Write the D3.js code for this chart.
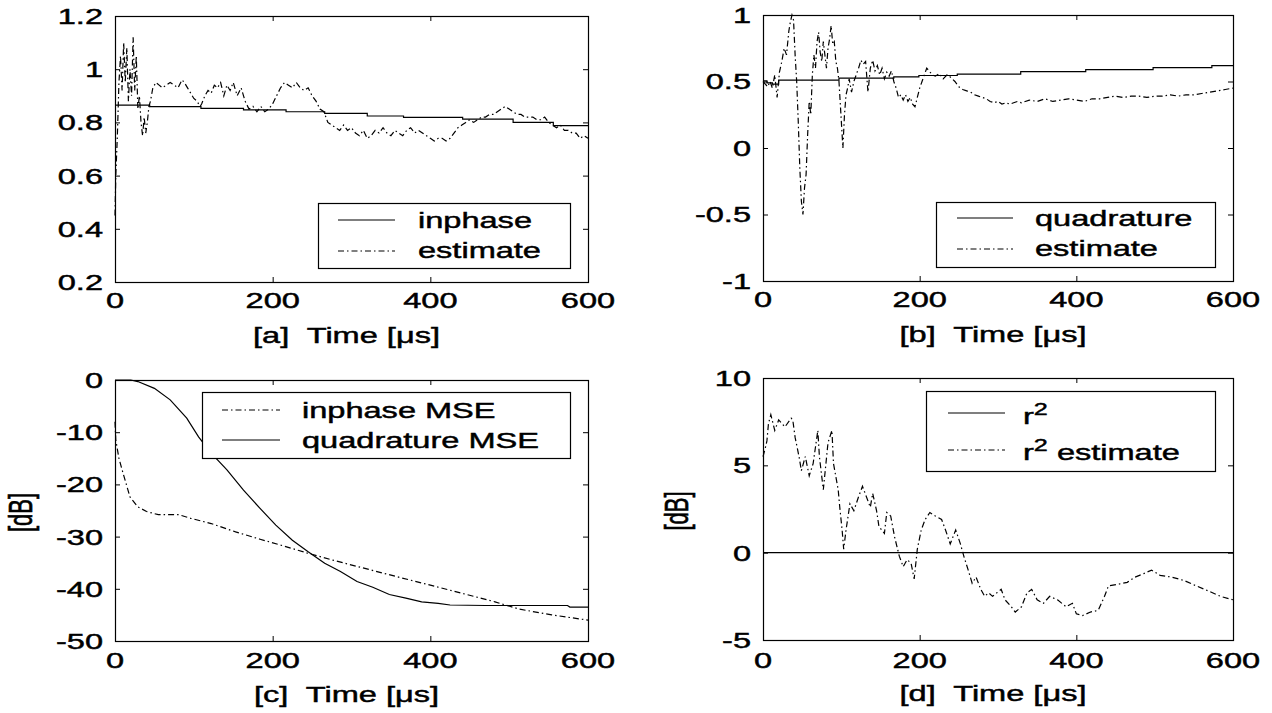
<!DOCTYPE html>
<html><head><meta charset="utf-8">
<script src="https://cdn.jsdelivr.net/npm/d3@7"></script>
<style>body{margin:0;background:#fff}svg{display:block}</style>
</head><body>
<script>
// ---------------- DATA ----------------
const timeTicks = [0, 200, 400, 600];
const timeTickLabels = ["0", "200", "400", "600"];

const yTicksA = [0.2, 0.4, 0.6, 0.8, 1, 1.2];
const yTickLabelsA = ["0.2", "0.4", "0.6", "0.8", "1", "1.2"];
const yTicksB = [-1, -0.5, 0, 0.5, 1];
const yTickLabelsB = ["-1", "-0.5", "0", "0.5", "1"];
const yTicksC = [-50, -40, -30, -20, -10, 0];
const yTickLabelsC = ["-50", "-40", "-30", "-20", "-10", "0"];
const yTicksD = [-5, 0, 5, 10];
const yTickLabelsD = ["-5", "0", "5", "10"];

// [a] inphase (step curve) and its estimate
const inphaseT = [0, 44, 109, 163, 217, 266, 320, 366, 441, 505, 556, 600];
const inphaseV = [0.865, 0.859, 0.853, 0.847, 0.84, 0.834, 0.824, 0.819, 0.812, 0.80, 0.788, 0.788];
const inphaseEstT = [0,1,3,5,7,9,11,13,15,17, 19,21,23,25,27,29,31,33,35,37,
  39,41,43,45,48,52,56,60,65,70, 75,80,85,88,92,96,100,104,108,110,
  114,118,122,126,130,134,138,142,146,150, 155,160,165,170,175,180,185,190,195,200,
  205,210,215,220,225,230,235,240,245,250, 255,260,265,270,275,280,285,290,295,300,
  305,310,315,320,325,330,335,340,345,350, 355,360,365,370,375,380,385,390,395,400,
  405,410,415,420,425,430,435,440,445,450, 455,460,465,470,475,480,485,490,495,500,
  505,510,515,520,525,530,535,540,545,550, 555,560,565,570,575,580,585,590,595,600];
const inphaseEstV = [0.45,0.6,0.75,0.95,1.05,0.92,1.1,0.95,1.08,0.88, 1.0,0.9,1.12,0.92,1.05,0.85,0.9,0.8,0.75,0.82,
  0.76,0.8,0.86,0.88,0.93,0.95,0.94,0.93,0.94,0.95, 0.94,0.93,0.96,0.95,0.93,0.91,0.89,0.88,0.86,0.87,
  0.9,0.92,0.91,0.94,0.93,0.95,0.9,0.94,0.92,0.95, 0.9,0.93,0.88,0.85,0.86,0.84,0.86,0.84,0.85,0.87,
  0.9,0.93,0.95,0.94,0.93,0.95,0.93,0.92,0.93,0.9, 0.88,0.85,0.84,0.8,0.79,0.78,0.77,0.79,0.77,0.78,
  0.76,0.75,0.77,0.74,0.75,0.77,0.76,0.78,0.76,0.75, 0.77,0.76,0.75,0.77,0.78,0.76,0.77,0.76,0.75,0.74,
  0.73,0.74,0.74,0.73,0.74,0.76,0.78,0.79,0.8,0.81, 0.8,0.81,0.82,0.82,0.83,0.83,0.84,0.85,0.86,0.85,
  0.84,0.83,0.83,0.82,0.82,0.82,0.81,0.81,0.82,0.8, 0.79,0.78,0.79,0.77,0.77,0.76,0.76,0.74,0.75,0.74];

// [b] quadrature (step curve) and its estimate
const quadT = [0, 5, 12, 20, 97, 167, 199, 248, 329, 412, 498, 573, 600];
const quadV = [0.505, 0.49, 0.48, 0.51, 0.525, 0.535, 0.545, 0.555, 0.575, 0.59, 0.605, 0.62, 0.62];
const quadEstT = [0,3,6,9,12,15,18,21,24,27, 30,33,35,37,39,41,43,45,47,49,
  51,53,55,57,59,61,63,65,67,69, 71,73,75,77,79,81,83,85,87,89,
  91,93,95,97,99,101,102,104,106,108, 110,113,116,119,122,125,128,131,134,137,
  140,143,146,149,152,155,158,161,164,167, 170,173,176,179,182,185,188,191,194,197,
  200,203,206,209,212,216,220,225,230,235, 240,245,250,255,260,265,270,275,280,285,
  290,295,300,305,310,315,320,325,330,340, 350,360,370,380,390,400,410,420,430,440,
  450,460,470,480,490,500,510,520,530,540, 550,560,570,580,590,600];
const quadEstV = [0.5,0.48,0.46,0.5,0.45,0.55,0.38,0.57,0.65,0.75, 0.7,0.88,0.95,1.0,0.96,0.7,0.5,0.2,-0.15,-0.4,
  -0.5,-0.3,-0.2,0.1,0.35,0.25,0.55,0.7,0.6,0.8, 0.87,0.72,0.65,0.8,0.7,0.6,0.75,0.82,0.92,0.78,
  0.8,0.65,0.6,0.5,0.3,0.1,0.0,0.25,0.4,0.45, 0.52,0.42,0.5,0.55,0.6,0.66,0.63,0.65,0.42,0.6,
  0.66,0.58,0.62,0.55,0.6,0.52,0.57,0.54,0.58,0.5, 0.45,0.38,0.4,0.36,0.4,0.35,0.38,0.33,0.31,0.38,
  0.45,0.5,0.55,0.6,0.58,0.55,0.54,0.56,0.52,0.55, 0.53,0.5,0.46,0.44,0.43,0.42,0.4,0.39,0.38,0.37,
  0.35,0.34,0.35,0.33,0.34,0.33,0.34,0.35,0.34,0.36, 0.35,0.37,0.35,0.36,0.37,0.36,0.35,0.37,0.37,0.38,
  0.39,0.38,0.39,0.39,0.38,0.39,0.39,0.4,0.39,0.4, 0.4,0.41,0.42,0.43,0.44,0.45];

// [c] MSE curves in dB
const inphMseT = [0,1,5,9,14,19,29,40,55,81,96,122,153,184,214,245,276,317,358,400,441,482,513,554,600];
const inphMseV = [-8,-11.5,-15,-17.2,-19.8,-22.4,-24.3,-25.2,-25.8,-25.8,-26.5,-27.5,-29.1,-30.5,-31.8,-33.2,-34.5,-36.1,-37.7,-39.3,-40.9,-42.5,-43.9,-45,-46];
const quadMseT = [0,10,20,29,50,70,91,106,122,142,163,184,204,225,245,266,286,307,327,348,369,389,410,425,470,520,574,577,600];
const quadMseV = [0,0,0,-0.3,-1.6,-3.8,-7.3,-10.9,-14,-17.2,-21.1,-24.6,-27.8,-30.7,-32.9,-35.1,-36.7,-38.6,-39.7,-41.1,-41.8,-42.5,-42.8,-43.1,-43.2,-43.2,-43.2,-43.5,-43.5];

// [d] r^2 and its estimate in dB
const r2T = [0, 600];
const r2V = [0, 0];
const r2EstT = [0,3,5,7,10,15,20,28,36,38, 41,46,49,54,59,64,70,72,77,83,
  88,90,96,98,101,103,106,111,116,122, 127,132,137,140,145,148,155,158,163,168,
  174,179,184,189,193,197,202,207,213,220, 228,233,239,246,252,257,262,267,272,278,
  283,288,293,304,309,317,322,330,337,343, 350,358,366,376,387,395,400,408,418,428,
  436,441,454,465,475,486,496,507,522,538, 553,569,584,600];
const r2EstV = [5.5,6.0,6.4,7.4,7.9,7.0,7.6,7.2,7.7,7.6, 6.6,5.5,4.7,5.5,4.4,5.1,7.0,5.5,3.6,6.3,
  7.0,5.1,3.6,2.6,1.3,0.2,1.3,2.8,2.4,3.2, 3.8,3.2,2.6,3.4,2.4,1.5,1.1,2.3,2.1,0.9,
  -0.2,-0.8,-0.4,-0.6,-1.5,0.2,1.3,1.9,2.3,2.1, 1.9,1.3,0.5,1.3,0.5,-0.3,-1.0,-1.75,-1.4,-2.1,
  -2.5,-2.3,-2.5,-2.1,-2.7,-3.1,-3.4,-3.1,-2.3,-2.1, -2.7,-2.9,-2.5,-2.7,-3.1,-2.9,-3.5,-3.6,-3.4,-3.3,
  -2.5,-1.9,-1.8,-1.7,-1.4,-1.2,-1.0,-1.3,-1.4,-1.6, -1.9,-2.2,-2.5,-2.7];

// ---------------- DRAWING ----------------
const W = 1272, H = 713;
const FONT = "'Liberation Sans', Arial, Helvetica, sans-serif";
const FS = 22, SX = 1.48;
const DASHDOT = "6,3,1.5,3";
const LINE_W = 1.2;

const svg = d3.select("body").append("svg").attr("width", W).attr("height", H);

function stext(parent, x, y, anchor, rot) {
  return parent.append("text")
    .attr("transform", `translate(${x},${y}) scale(${SX},1)` + (rot ? ` rotate(${rot})` : ""))
    .attr("text-anchor", anchor)
    .style("font-family", FONT)
    .style("font-size", FS + "px")
    .attr("fill", "#000")
    .attr("stroke", "#000")
    .attr("stroke-width", 0.45);
}

function drawPanel(cfg) {
  const g = svg.append("g");
  const x = d3.scaleLinear().domain([0, 600]).range([cfg.l, cfg.r]);
  const y = d3.scaleLinear().domain(cfg.yDomain).range([cfg.b, cfg.t]);

  // inward ticks on all four sides
  const tk = 5;
  const axB = g.append("g").attr("transform", `translate(0,${cfg.b})`).call(d3.axisBottom(x).tickValues(timeTicks).tickSize(-tk).tickFormat(""));
  const axT = g.append("g").attr("transform", `translate(0,${cfg.t})`).call(d3.axisTop(x).tickValues(timeTicks).tickSize(-tk).tickFormat(""));
  const axL = g.append("g").attr("transform", `translate(${cfg.l},0)`).call(d3.axisLeft(y).tickValues(cfg.yTicks).tickSize(-tk).tickFormat(""));
  const axR = g.append("g").attr("transform", `translate(${cfg.r},0)`).call(d3.axisRight(y).tickValues(cfg.yTicks).tickSize(-tk).tickFormat(""));
  [axB, axT, axL, axR].forEach(a => { a.select(".domain").remove(); a.selectAll("line").attr("stroke", "#000").attr("stroke-width", 1); });

  // box
  g.append("rect").attr("x", cfg.l + 0.5).attr("y", cfg.t + 0.5)
    .attr("width", cfg.r - cfg.l).attr("height", cfg.b - cfg.t)
    .attr("fill", "none").attr("stroke", "#000").attr("stroke-width", 1.2);

  // tick labels
  timeTicks.forEach((t, i) => {
    stext(g, x(t), cfg.b + cfg.xLabOff, "middle").text(timeTickLabels[i]);
  });
  cfg.yTicks.forEach((v, i) => {
    stext(g, cfg.l - 12, y(v), "end").attr("dy", "0.36em").text(cfg.yTickLabels[i]);
  });

  // x title
  const tt = stext(g, (cfg.l + cfg.r) / 2 - 5, cfg.b + 61, "middle");
  tt.text(cfg.xTitle);
  tt.attr("xml:space", "preserve").style("white-space", "pre");

  if (cfg.yTitle) {
    stext(g, cfg.yTitleX, (cfg.t + cfg.b) / 2 + 2, "middle", -90).text(cfg.yTitle);
  }

  // series
  cfg.series.forEach(s => {
    const ln = d3.line().x(d => x(d[0])).y(d => y(d[1])).curve(s.step ? d3.curveStepAfter : d3.curveLinear);
    g.append("path").datum(d3.zip(s.t, s.v))
      .attr("d", ln).attr("fill", "none").attr("stroke", "#000")
      .attr("stroke-width", LINE_W)
      .attr("stroke-dasharray", s.dash ? DASHDOT : null);
  });

  // legend
  const L = cfg.legend;
  const lg = g.append("g");
  lg.append("rect").attr("x", L.x0 + 0.5).attr("y", L.y0 + 0.5)
    .attr("width", L.x1 - L.x0).attr("height", L.y1 - L.y0)
    .attr("fill", "#fff").attr("stroke", "#000").attr("stroke-width", 1.2);
  L.rows.forEach(r => {
    lg.append("line").attr("x1", L.s0).attr("x2", L.s1).attr("y1", r.ly).attr("y2", r.ly)
      .attr("stroke", "#000").attr("stroke-width", LINE_W)
      .attr("stroke-dasharray", r.dash ? DASHDOT : null);
    const te = stext(lg, L.tx, r.by, "start");
    r.parts.forEach(p => {
      if (p.sup) {
        te.append("tspan").attr("dy", -9).style("font-size", "17px").text(p.s);
      } else {
        te.append("tspan").attr("dy", p.after ? 9 : 0).text(p.s);
      }
    });
  });
}

drawPanel({
  l: 115, r: 588, t: 16, b: 282, yDomain: [0.2, 1.2], yTicks: yTicksA, yTickLabels: yTickLabelsA,
  xLabOff: 26, xTitle: "[a]  Time [\u03bcs]",
  series: [
    { t: inphaseT, v: inphaseV, step: true },
    { t: inphaseEstT, v: inphaseEstV, dash: true }
  ],
  legend: { x0: 318, y0: 203, x1: 570, y1: 268, s0: 338, s1: 395, tx: 418,
    rows: [ { ly: 220, by: 228, parts: [{ s: "inphase" }] },
            { ly: 251, by: 258, dash: true, parts: [{ s: "estimate" }] } ] }
});

drawPanel({
  l: 763, r: 1233, t: 15, b: 281, yDomain: [-1, 1], yTicks: yTicksB, yTickLabels: yTickLabelsB,
  xLabOff: 26, xTitle: "[b]  Time [\u03bcs]",
  series: [
    { t: quadT, v: quadV, step: true },
    { t: quadEstT, v: quadEstV, dash: true }
  ],
  legend: { x0: 936, y0: 202, x1: 1215, y1: 267, s0: 957, s1: 1013, tx: 1035,
    rows: [ { ly: 218, by: 226, parts: [{ s: "quadrature" }] },
            { ly: 249, by: 256, dash: true, parts: [{ s: "estimate" }] } ] }
});

drawPanel({
  l: 115, r: 588, t: 380, b: 641, yDomain: [-50, 0], yTicks: yTicksC, yTickLabels: yTickLabelsC,
  xLabOff: 27, xTitle: "[c]  Time [\u03bcs]", yTitle: "[dB]", yTitleX: 32,
  series: [
    { t: quadMseT, v: quadMseV },
    { t: inphMseT, v: inphMseV, dash: true }
  ],
  legend: { x0: 202, y0: 392, x1: 570, y1: 458, s0: 222, s1: 280, tx: 302,
    rows: [ { ly: 410, by: 418, dash: true, parts: [{ s: "inphase MSE" }] },
            { ly: 440, by: 448, parts: [{ s: "quadrature MSE" }] } ] }
});

drawPanel({
  l: 763, r: 1233, t: 378, b: 640, yDomain: [-5, 10], yTicks: yTicksD, yTickLabels: yTickLabelsD,
  xLabOff: 28, xTitle: "[d]  Time [\u03bcs]", yTitle: "[dB]", yTitleX: 688,
  series: [
    { t: r2T, v: r2V },
    { t: r2EstT, v: r2EstV, dash: true }
  ],
  legend: { x0: 926, y0: 391, x1: 1215, y1: 471, s0: 948, s1: 1005, tx: 1023,
    rows: [ { ly: 413, by: 424, parts: [{ s: "r" }, { s: "2", sup: true }] },
            { ly: 450, by: 460, dash: true, parts: [{ s: "r" }, { s: "2", sup: true }, { s: " estimate", after: true }] } ] }
});
</script>
</body></html>
